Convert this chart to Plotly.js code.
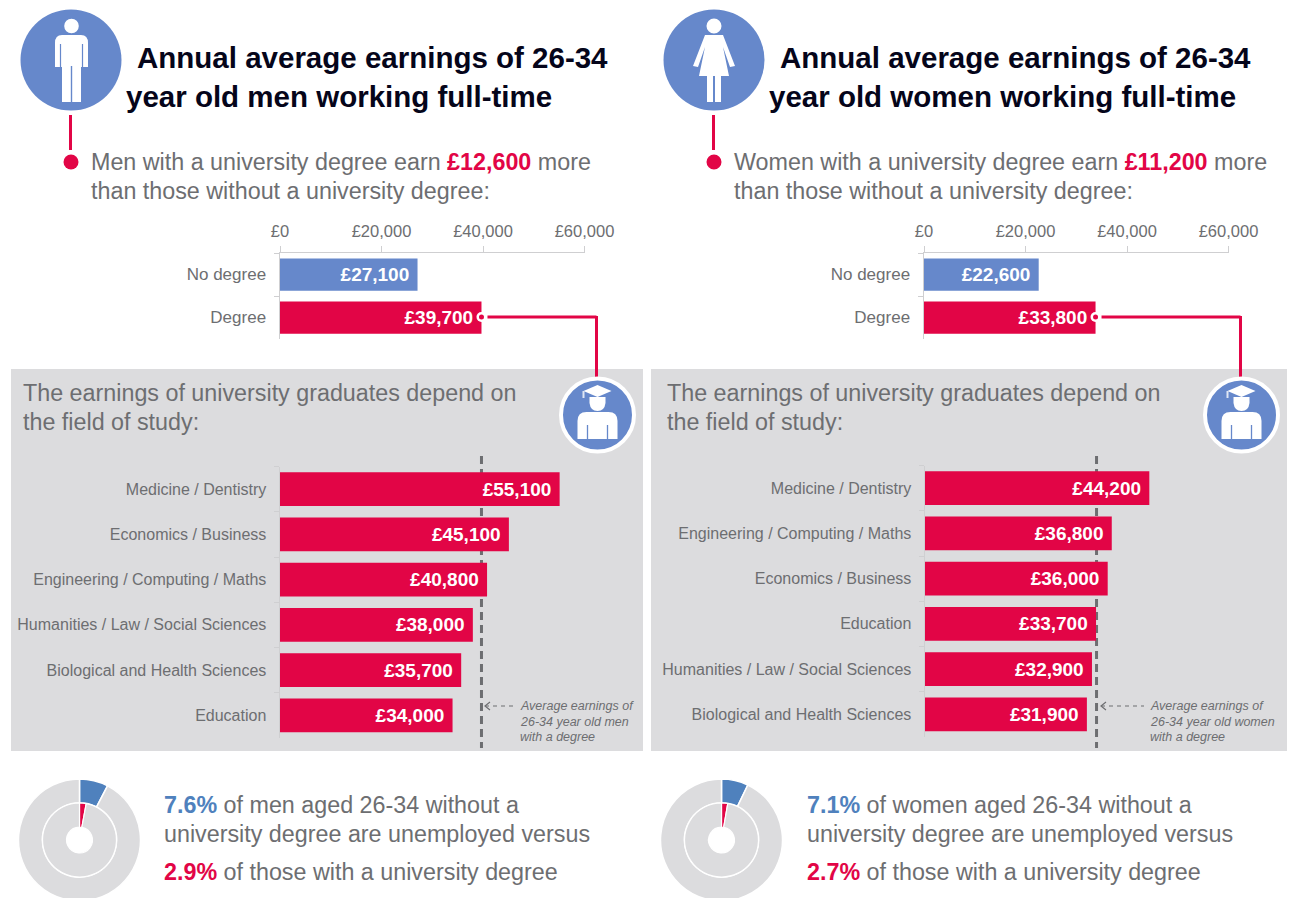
<!DOCTYPE html>
<html><head><meta charset="utf-8">
<script src="https://cdn.plot.ly/plotly-3.0.1.min.js"></script>
<style>html,body{margin:0;padding:0;background:#fff;overflow:hidden;width:1293px;height:898px}#c{width:1293px;height:898px;overflow:hidden}</style>
</head><body><div id="c"></div>
<script>
const W=1293,H=910;
const degreeCats=['No degree','Degree'];
const menDegree=[27100,39700];
const womenDegree=[22600,33800];
const menFields=['Medicine / Dentistry','Economics / Business','Engineering / Computing / Maths','Humanities / Law / Social Sciences','Biological and Health Sciences','Education'];
const menFieldValues=[55100,45100,40800,38000,35700,34000];
const womenFields=['Medicine / Dentistry','Engineering / Computing / Maths','Economics / Business','Education','Humanities / Law / Social Sciences','Biological and Health Sciences'];
const womenFieldValues=[44200,36800,36000,33700,32900,31900];
const menUnemp=[7.6,2.9];
const womenUnemp=[7.1,2.7];
const xTicks=[0,20000,40000,60000];

const BLUE='#6688cb',RED='#e20546',GREY='#6d6e71',PANEL='#dcdcde',LINE='#cfcfd1',PIEBLUE='#4f81bd',FONT='"Liberation Sans", Arial, sans-serif';
const BODY=23.3;
const fx=p=>p/W, fy=p=>1-p/H;
const shapes=[],annotations=[],traces=[];
const layout={width:W,height:H,margin:{l:0,r:0,t:0,b:0},paper_bgcolor:'#fff',plot_bgcolor:'rgba(0,0,0,0)',showlegend:false,bargap:0.25,shapes,annotations,font:{family:FONT,color:GREY}};

const rect=(x0,y0,x1,y1,c)=>shapes.push({type:'rect',xref:'paper',yref:'paper',x0:fx(x0),x1:fx(x1),y0:fy(y0),y1:fy(y1),fillcolor:c,line:{width:0},layer:'below'});
const circ=(cx,cy,r,c,lc,lw,layer)=>shapes.push({type:'circle',xref:'paper',yref:'paper',x0:fx(cx-r),x1:fx(cx+r),y0:fy(cy-r),y1:fy(cy+r),fillcolor:c,line:{width:lw||0,color:lc||c},layer:layer||'above'});
const path=(cmds,c,lc,lw)=>{const s=cmds.map(k=>typeof k==='string'?k:fx(k[0])+','+fy(k[1])).join(' ');shapes.push({type:'path',xref:'paper',yref:'paper',path:s,fillcolor:c||'rgba(0,0,0,0)',line:{width:lw||0,color:lc||c||'rgba(0,0,0,0)'},layer:'above'});};
const poly=(pts,c)=>path(pts.flatMap((p,i)=>[i?'L':'M',p]).concat(['Z']),c);
const seg=(x0,y0,x1,y1,c,w,dash)=>shapes.push({type:'line',xref:'paper',yref:'paper',x0:fx(x0),x1:fx(x1),y0:fy(y0),y1:fy(y1),line:{color:c,width:w,dash:dash||'solid'},layer:'above'});
const txt=(x,y,text,size,color,extra)=>annotations.push(Object.assign({xref:'paper',yref:'paper',x:fx(x-1),y:fy(y),text,showarrow:false,xanchor:'left',yanchor:'middle',align:'left',borderpad:0,font:{family:FONT,size,color}},extra||{}));
const gbp=v=>'£'+v.toLocaleString('en-GB');

function axes(n,x0,x1,y0,y1,cats,showX,labelSize){
  const sx=n===1?'':n;
  layout['xaxis'+sx]={domain:[fx(x0),fx(x1)],range:[0,60000],anchor:'y'+sx,side:'top',tickmode:'array',tickvals:xTicks,ticktext:xTicks.map(gbp),visible:showX,showgrid:false,zeroline:false,showline:true,linecolor:LINE,linewidth:1.5,ticks:'outside',ticklen:6,tickcolor:LINE,tickfont:{family:FONT,size:16.5,color:GREY},fixedrange:true,ticklabelstandoff:2};
  layout['yaxis'+sx]={domain:[fy(y1),fy(y0)],anchor:'x'+sx,type:'category',categoryorder:'array',categoryarray:cats,autorange:'reversed',showgrid:false,zeroline:false,showline:true,linecolor:LINE,linewidth:1.5,ticks:'outside',ticklen:5,tickcolor:LINE,tickson:'boundaries',tickfont:{family:FONT,size:labelSize,color:GREY},ticklabelstandoff:9,fixedrange:true};
}
function bars(n,cats,vals,colors){
  const sx=n===1?'':n;
  traces.push({type:'bar',orientation:'h',xaxis:'x'+sx,yaxis:'y'+sx,y:cats,x:vals,marker:{color:colors,line:{width:0}},texttemplate:'<b>£%{x:,}</b>\u00a0',textposition:'inside',insidetextanchor:'end',textangle:0,constraintext:'none',insidetextfont:{family:FONT,size:19,color:'#fff'},hoverinfo:'skip'});
}

function manIcon(cx){
  circ(cx+0.5,26,7.3,'#fff');
  path(['M',[cx-16,43],'Q',[cx-16,35],[cx-9,35],'L',[cx+10,35],'Q',[cx+17,35],[cx+17,43],'L',[cx+17,67],'L',[cx+11,67],'L',[cx+10,67],'L',[cx+10,102],'L',[cx-9,102],'L',[cx-9,67],'L',[cx-16,67],'Z'],'#fff');
  seg(cx-10.5,44,cx-10.5,67,BLUE,1.2);seg(cx+11.5,44,cx+11.5,67,BLUE,1.2);
  seg(cx+0.5,66,cx+0.5,102,BLUE,1.4);
}
function womanIcon(cx){
  circ(cx,26,7.5,'#fff');
  poly([[cx-9,35],[cx+9,35],[cx+21,66],[cx+16,67],[cx+9,47],[cx+15,76],[cx+7,76],[cx+7,102],[cx+1,102],[cx+1,76],[cx-1,76],[cx-1,102],[cx-7,102],[cx-7,76],[cx-15,76],[cx-9,47],[cx-16,67],[cx-21,66]],'#fff');
}
function gradIcon(cx,cy){
  circ(cx,cy,36.5,BLUE,'#fff',4);
  poly([[cx-14,cy-24],[cx,cy-30],[cx+14,cy-24],[cx,cy-18]],'#fff');
  seg(cx-14,cy-24,cx-14,cy-17,'#dfe6f4',2);
  path(['M',[cx-8,cy-18],'L',[cx+8,cy-18],'L',[cx+8,cy-12],'Q',[cx+7,cy-4],[cx,cy-4],'Q',[cx-7,cy-4],[cx-8,cy-12],'Z'],'#fff');
  path(['M',[cx-20,cy+24],'L',[cx-20,cy+6],'Q',[cx-20,cy-3],[cx-11,cy-3],'L',[cx+11,cy-3],'Q',[cx+20,cy-3],[cx+20,cy+6],'L',[cx+20,cy+24],'Z'],'#fff');
  seg(cx-10,cy+10,cx-10,cy+24,BLUE,1.3);seg(cx+10,cy+10,cx+10,cy+24,BLUE,1.3);
}

function column(o){
  const d=o.dx;
  rect(o.panel[0],369,o.panel[1],751,PANEL);
  const sx=o.axis+1;
  shapes.push({type:'line',xref:'x'+sx,yref:'paper',x0:o.deg[1],x1:o.deg[1],y0:fy(456),y1:fy(748),line:{color:GREY,width:3,dash:'8px,5px'},layer:'below'});
  axes(o.axis,o.x0,o.x0+304.5,253,339,degreeCats,true,17);
  axes(sx,o.x0+o.insetShift,o.x0+o.insetShift+304.5,o.iy0,o.iy1,o.fields,false,16);
  bars(o.axis,degreeCats,o.deg,[BLUE,RED]);
  bars(sx,o.fields,o.fieldVals,RED);
  circ(71+d,60,50.5,BLUE);
  o.icon(71+d);
  seg(70.5+d,115,70.5+d,150,RED,3);
  circ(71+d,162,7.5,RED);
  txt(137+d,57,'<b>Annual average earnings of 26-34</b>',29.5,'#05051a');
  txt(126+d,97,'<b>year old '+o.who+' working full-time</b>',29.5,'#05051a');
  txt(91+d,162,o.Who+' with a university degree earn <b><span style="color:'+RED+'">£'+o.gap+'</span></b> more',BODY,GREY);
  txt(91+d,190.5,'than those without a university degree:',BODY,GREY);
  txt(23+o.pshift,393,'The earnings of university graduates depend on',BODY,GREY);
  txt(23+o.pshift,421.5,'the field of study:',BODY,GREY);
  const bx=o.x0+o.deg[1]*304.5/60000;
  seg(bx+6,317,o.lineX,317,RED,3);
  seg(o.lineX,316,o.lineX,378,RED,3);
  circ(bx,317,5,'#fff');circ(bx,317,2.5,RED);
  gradIcon(o.lineX+1,415);
  const ax=o.noteX;
  seg(o.arrow[0],706,o.arrow[1],706,GREY,1.2,'4px,4px');
  path(['M',[o.arrow[0]+5,702],'L',[o.arrow[0],706],'L',[o.arrow[0]+5,710]],null,GREY,1.2);
  o.note.forEach((t,i)=>txt(ax,706+i*15.7,'<i>'+t+'</i>',12.5,GREY));
  const cx=o.pie, cy=840;
  traces.push({type:'pie',values:[o.un[0],100-o.un[0]],marker:{colors:[PIEBLUE,PANEL],line:{color:'#fff',width:1.5}},hole:0.61,sort:false,direction:'clockwise',rotation:0,textinfo:'none',hoverinfo:'skip',domain:{x:[fx(cx-61),fx(cx+61)],y:[fy(cy+61),fy(cy-61)]}});
  traces.push({type:'pie',values:[o.un[1],100-o.un[1]],marker:{colors:[RED,PANEL],line:{color:'#fff',width:1.2}},hole:0.35,sort:false,direction:'clockwise',rotation:0,textinfo:'none',hoverinfo:'skip',domain:{x:[fx(cx-37),fx(cx+37)],y:[fy(cy+37),fy(cy-37)]}});
  txt(164+d,805,'<b><span style="color:'+PIEBLUE+'">'+o.un[0]+'%</span></b> of '+o.who+' aged 26-34 without a',BODY,GREY);
  txt(164+d,834,'university degree are unemployed versus',BODY,GREY);
  txt(164+d,872,'<b><span style="color:'+RED+'">'+o.un[1]+'%</span></b> of those with a university degree',BODY,GREY);
}

column({dx:0,axis:1,x0:280,insetShift:0,iy0:466.5,iy1:738,panel:[11,643],pshift:0,deg:menDegree,fields:menFields,fieldVals:menFieldValues,who:'men',Who:'Men',gap:'12,600',lineX:596.5,noteX:520,arrow:[485,514],note:['Average earnings of','26-34 year old men','with a degree'],pie:79.5,un:menUnemp,icon:manIcon});
column({dx:643,axis:3,x0:924,insetShift:1,iy0:465.5,iy1:737,panel:[651,1287],pshift:644,deg:womenDegree,fields:womenFields,fieldVals:womenFieldValues,who:'women',Who:'Women',gap:'11,200',lineX:1240.5,noteX:1150,arrow:[1101,1144],note:['Average earnings of','26-34 year old women','with a degree'],pie:721.5,un:womenUnemp,icon:womanIcon});

Plotly.newPlot('c',traces,layout,{displayModeBar:false,staticPlot:true});
</script></body></html>
